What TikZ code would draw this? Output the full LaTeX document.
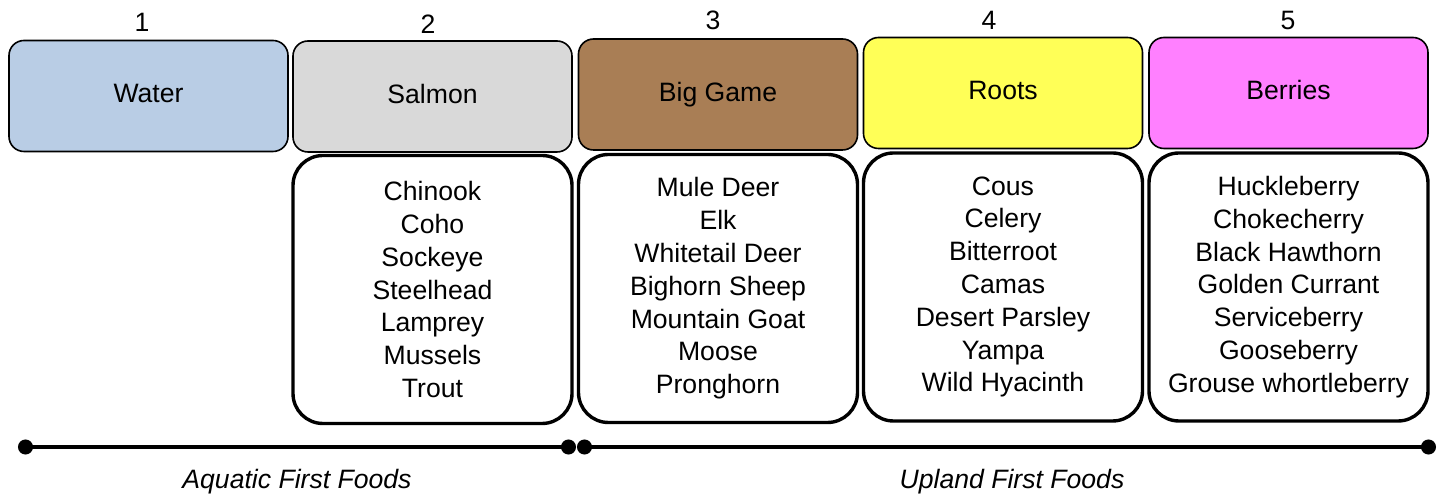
\documentclass[tikz,border=0pt]{standalone}
\usepackage{fontspec}
\setmainfont{Liberation Sans}
\usetikzlibrary{
  arrows.meta,
  positioning
}
\definecolor{waterblue}{RGB}{185,205,229}
\definecolor{salmongray}{RGB}{217,217,217}
\definecolor{gamebrown}{RGB}{169,126,85}
\definecolor{rootyellow}{RGB}{255,255,87}
\definecolor{berrypink}{RGB}{255,128,255}

\begin{document}
\begin{tikzpicture}[
  x=0.5pt, y=-0.5pt,
  font=\fontsize{13.3}{16.4}\selectfont,
  cat/.style={draw=black, line width=0.8pt, rounded corners=7.5pt, minimum width=139.5pt, minimum height=55.5pt, text height=0.72em, text depth=0.04em, align=center},
  items/.style={draw=black, line width=1.7pt, rounded corners=15pt, fill=white, minimum width=139.5pt, minimum height=134pt, align=center},
  num/.style={inner sep=0pt},
  span/.style={line width=1.6pt, {Circle[length=7.5pt]}-{Circle[length=7.5pt]}},
  foods/.style={font=\fontsize{13.3}{16.4}\selectfont\itshape}
]
\useasboundingbox (0,0) rectangle (1437,496);

% category boxes
\node[cat, fill=waterblue] (water) at (148.5,96) {Water};
\node[cat, fill=salmongray] (salmon) at (432.5,96.5) {Salmon};
\node[cat, fill=gamebrown] (game) at (718,94.5) {Big Game};
\node[cat, fill=rootyellow] (roots) at (1003,93) {Roots};
\node[cat, fill=berrypink] (berries) at (1288.5,93) {Berries};

% column numbers
\node[num] (n1) at (142,22) {1};
\node[num] (n2) at (428,24) {2};
\node[num] (n3) at (713,20) {3};
\node[num] (n4) at (989,20) {4};
\node[num] (n5) at (1288,20) {5};

% lists under the boxes
\node[items, below=0.5pt of salmon] (salmonlist) {Chinook\\Coho\\Sockeye\\Steelhead\\Lamprey\\Mussels\\Trout};
\node[items, below=1pt of game] (gamelist) {Mule Deer\\Elk\\Whitetail Deer\\Bighorn Sheep\\Mountain Goat\\Moose\\Pronghorn};
\node[items, below=1pt of roots] (rootslist) {Cous\\Celery\\Bitterroot\\Camas\\Desert Parsley\\Yampa\\Wild Hyacinth};
\node[items, below=1pt of berries] (berrylist) {Huckleberry\\Chokecherry\\Black Hawthorn\\Golden Currant\\Serviceberry\\Gooseberry\\Grouse whortleberry};

% timeline
\coordinate (aqL) at (18,447);
\coordinate (aqR) at (576,447);
\coordinate (upL) at (577,447);
\coordinate (upR) at (1436,447);
\draw[span] (aqL) -- (aqR);
\draw[span] (upL) -- (upR);
\node[foods] (aquatic) at (297,482) {Aquatic First Foods};
\node[foods] (upland) at (1012,482) {Upland First Foods};
\end{tikzpicture}
\end{document}
